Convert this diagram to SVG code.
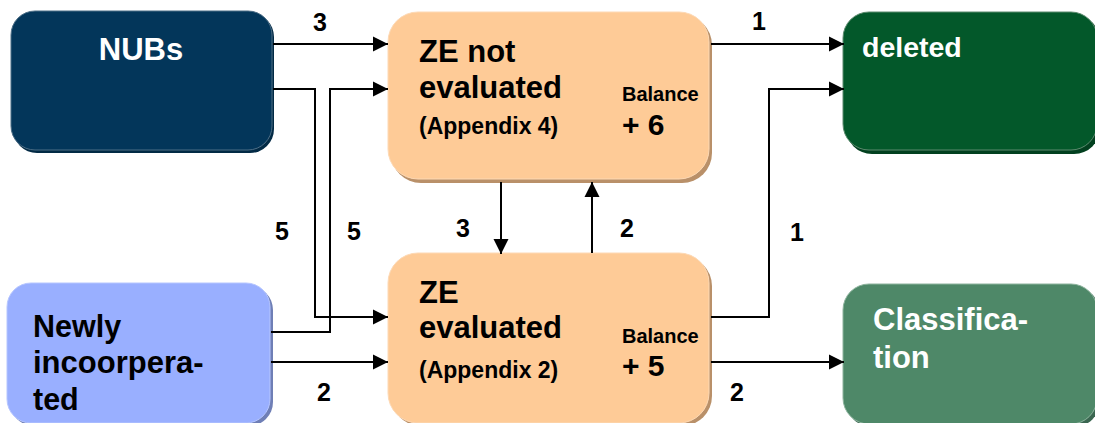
<svg xmlns="http://www.w3.org/2000/svg" width="1095" height="423" viewBox="0 0 1095 423">
<style>
.t{font-family:"Liberation Sans",Arial,sans-serif;font-weight:bold}
.w{fill:#ffffff}
.k{fill:#000000}
.big{font-size:31px}
.num{font-size:25px;text-anchor:middle}
.app{font-size:23px}
.bal{font-size:20px}
.c{fill:none;stroke:#000;stroke-width:2}
</style>
<defs>
<marker id="ah" markerUnits="userSpaceOnUse" markerWidth="16" markerHeight="16" viewBox="0 0 16 16" refX="15" refY="8" orient="auto">
<path d="M0,0.5 L15,8 L0,15.5 Z" fill="#000"/>
</marker>
</defs>
<rect width="1095" height="423" fill="#ffffff"/>

<g id="nubs">
<rect x="13" y="13" width="261" height="140" rx="24" fill="#022a45"/>
<rect x="11" y="11" width="261" height="139" rx="24" fill="#03365a" stroke="#4d6e86" stroke-width="1"/>
<text class="t w" x="141" y="60" font-size="31" text-anchor="middle">NUBs</text>
</g>

<g id="ze-not">
<rect x="391" y="15" width="321" height="168" rx="30" fill="#b99069"/>
<rect x="388" y="12" width="321" height="167" rx="30" fill="#fecb97" stroke="#fdd9b5" stroke-width="1"/>
<text class="t k big" x="419" y="62">ZE not</text>
<text class="t k big" x="419" y="98">evaluated</text>
<text class="t k app" x="419" y="134">(Appendix 4)</text>
<text class="t k bal" x="622" y="101">Balance</text>
<text class="t k" x="622" y="135" font-size="30">+ 6</text>
</g>

<g id="deleted">
<rect x="846" y="15" width="254" height="139" rx="26" fill="#02401f"/>
<rect x="843" y="12" width="254" height="138" rx="26" fill="#03582a" stroke="#5c8a6e" stroke-width="1"/>
<text class="t w" x="862" y="57" font-size="28.5">deleted</text>
</g>

<g id="newly">
<rect x="10" y="286" width="263" height="140" rx="24" fill="#6f7fb6"/>
<rect x="7" y="283" width="263" height="140" rx="24" fill="#99afff" stroke="#b6c6ff" stroke-width="1"/>
<text class="t k" x="33" y="337" font-size="30.5">Newly</text>
<text class="t k big" x="33" y="373">incoorpera-</text>
<text class="t k" x="33" y="410" font-size="30.5">ted</text>
</g>

<g id="ze-eval">
<rect x="391" y="256" width="321" height="170" rx="30" fill="#b99069"/>
<rect x="388" y="253" width="321" height="170" rx="30" fill="#fecb97" stroke="#fdd9b5" stroke-width="1"/>
<text class="t k big" x="419" y="303">ZE</text>
<text class="t k big" x="419" y="338">evaluated</text>
<text class="t k app" x="419" y="378">(Appendix 2)</text>
<text class="t k bal" x="622" y="343">Balance</text>
<text class="t k" x="622" y="376" font-size="30">+ 5</text>
</g>

<g id="classification">
<rect x="846" y="287" width="254" height="140" rx="26" fill="#3a6650"/>
<rect x="843" y="284" width="254" height="140" rx="26" fill="#4e8868" stroke="#8db39d" stroke-width="1"/>
<text class="t w big" x="873" y="330">Classifica-</text>
<text class="t w big" x="873" y="368">tion</text>
</g>

<g id="connectors">
<path class="c" d="M273,44 H388" marker-end="url(#ah)"/>
<path class="c" d="M273,89 H315 V317 H388" marker-end="url(#ah)"/>
<path class="c" d="M271,332 H330 V89 H388" marker-end="url(#ah)"/>
<path class="c" d="M271,362 H388" marker-end="url(#ah)"/>
<path class="c" d="M501,182 V254" marker-end="url(#ah)"/>
<path class="c" d="M592,253 V182" marker-end="url(#ah)"/>
<path class="c" d="M711,44 H844" marker-end="url(#ah)"/>
<path class="c" d="M711,317 H769 V89 H844" marker-end="url(#ah)"/>
<path class="c" d="M711,362 H844" marker-end="url(#ah)"/>
<g class="t k">
<text class="num" x="320" y="31">3</text>
<text class="num" x="282" y="240">5</text>
<text class="num" x="354" y="240">5</text>
<text class="num" x="324" y="401">2</text>
<text class="num" x="463" y="237">3</text>
<text class="num" x="627" y="237">2</text>
<text class="num" x="759" y="30">1</text>
<text class="num" x="797" y="241">1</text>
<text class="num" x="737" y="401">2</text>
</g>
</g>
</svg>
